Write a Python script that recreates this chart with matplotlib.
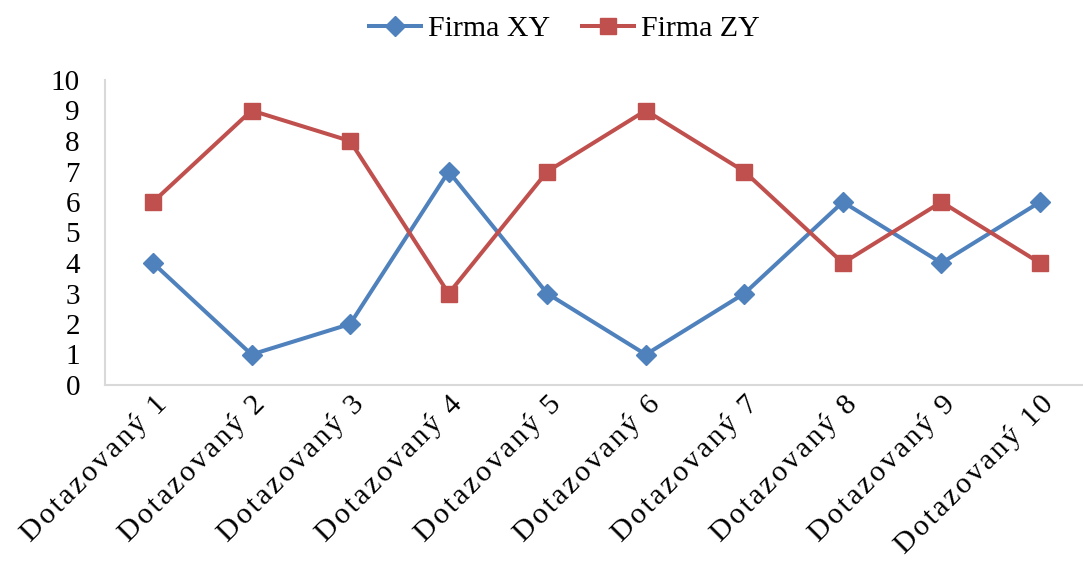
import matplotlib
matplotlib.use("Agg")
import matplotlib.pyplot as plt

categories = [f"Dotazovaný {i}" for i in range(1, 11)]
firma_xy = [4, 1, 2, 7, 3, 1, 3, 6, 4, 6]
firma_zy = [6, 9, 8, 3, 7, 9, 7, 4, 6, 4]
y_ticks = list(range(0, 11))

BLUE = "#4F81BD"
RED = "#C0504D"
AXIS = "#D9D9D9"

plt.rcParams["font.family"] = ["Liberation Serif", "DejaVu Serif"]

fig = plt.figure(figsize=(10.83, 5.70), dpi=100)
ax = fig.add_axes([105 / 1083, 1 - 385 / 570, 978 / 1083, 305 / 570])

x = list(range(len(categories)))
ax.plot(x, firma_xy, color=BLUE, lw=2.9, marker="D", ms=10,
        label="Firma XY", solid_joinstyle="round")
ax.plot(x, firma_zy, color=RED, lw=2.9, marker="s", ms=11.5,
        label="Firma ZY", solid_joinstyle="round")

ax.set_xlim(-0.487, 9.436)
ax.set_ylim(0, 10)
ax.set_yticks(y_ticks)
ax.tick_params(axis="y", length=0, labelsize=21, pad=18)
ax.tick_params(axis="x", length=0, pad=4)

spaced = ["\u200a".join(c) for c in categories]
ax.set_xticks(x)
ax.set_xticklabels(spaced, rotation=45, ha="right", va="top",
                   rotation_mode="anchor", fontsize=21.5)

for side in ("top", "right"):
    ax.spines[side].set_visible(False)
for side in ("left", "bottom"):
    ax.spines[side].set_color(AXIS)
    ax.spines[side].set_linewidth(1.5)

fig.legend(loc="upper center", bbox_to_anchor=(0.521, 1.02), ncol=2,
           frameon=False, fontsize=21.5, handlelength=1.75, handletextpad=0.23,
           columnspacing=1.07)

fig.savefig("out.png", dpi=100)
